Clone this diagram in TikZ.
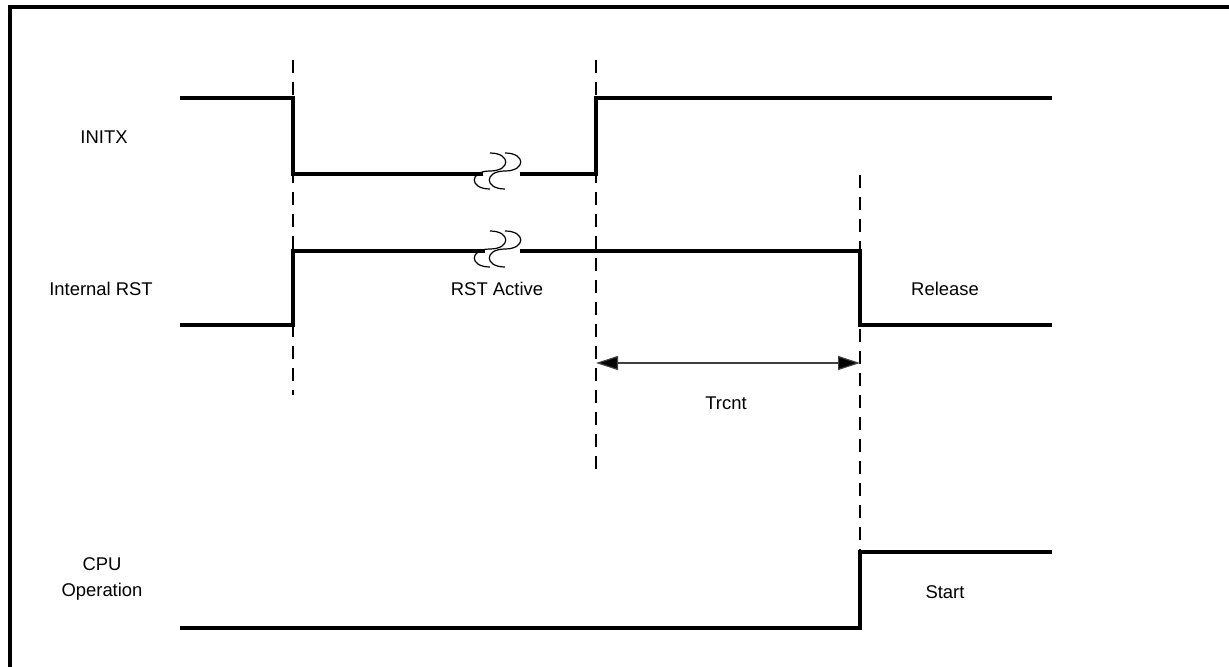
\documentclass[tikz,border=0pt]{standalone}
\usepackage{fontspec}
\setmainfont{Liberation Sans}
\usetikzlibrary{arrows.meta}
\begin{document}
\begin{tikzpicture}[x=1bp,y=-1bp,
  sig/.style={line width=3.2bp, line join=miter},
  guide/.style={line width=2.2bp, dash pattern=on 13bp off 9bp},
  lbl/.style={font=\fontsize{18.5}{26}\selectfont, inner sep=0pt},
  dim/.style={line width=1.2bp, draw=black!75, {Triangle[length=22bp,width=14bp,fill=black]}-{Triangle[length=22bp,width=14bp,fill=black]}},
  brkmark/.pic={\draw[line width=1.2bp] (0,-18) .. controls (21,-18) and (21,0) .. (0,0) .. controls (-21,0) and (-21,18) .. (0,18);}
]
\useasboundingbox (0,0) rectangle (1229,667);
\clip (0,0) rectangle (1229,667);
% frame
\draw[line width=3.2bp] (10,700) -- (10,7) -- (1260,7);
% guides
\draw[guide] (293,60) -- (293,395);
\draw[guide] (596,60) -- (596,470);
\draw[guide] (860,175) -- (860,552);
% INITX
\draw[sig] (180,98) -- (293,98) -- (293,174) -- (483,174);
\draw[sig] (520,174) -- (596,174) -- (596,98) -- (1052,98);
% Internal RST
\draw[sig] (180,325) -- (293,325) -- (293,251) -- (485,251);
\draw[sig] (520,251) -- (860,251) -- (860,325) -- (1052,325);
% CPU
\draw[sig] (180,628) -- (860,628) -- (860,552) -- (1052,552);
% break marks
\pic at (490,171) {brkmark};
\pic at (505,171) {brkmark};
\pic at (490,249) {brkmark};
\pic at (505,249) {brkmark};
% dimension
\coordinate (t1) at (596,363);
\coordinate (t2) at (860,363);
\draw[dim] (t1) -- (t2);
% labels
\node[lbl] (initx) at (104,137) {INITX};
\node[lbl] (irst) at (101,289) {Internal RST};
\node[lbl] (active) at (497,289) {RST Active};
\node[lbl] (release) at (945,289) {Release};
\node[lbl] (trcnt) at (726,403) {Trcnt};
\node[lbl, align=center] (cpu) at (102,579) {CPU\\Operation};
\node[lbl] (start) at (945,592) {Start};
\end{tikzpicture}
\end{document}
